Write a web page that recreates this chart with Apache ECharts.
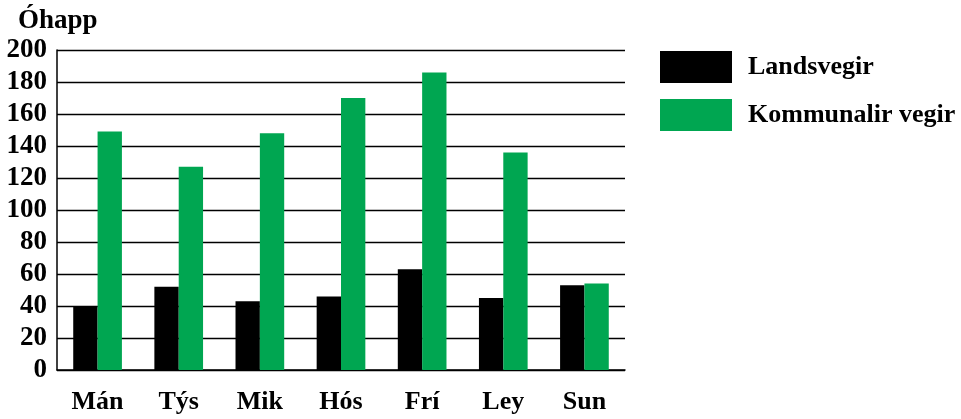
<!DOCTYPE html>
<html><head><meta charset="utf-8">
<script src="https://cdn.jsdelivr.net/npm/echarts@6/dist/echarts.min.js"></script>
<style>html,body{margin:0;padding:0;background:#fff}#c{width:961px;height:419px}</style>
</head><body><div id="c"></div>
<script>
const categories = ['Mán','Týs','Mik','Hós','Frí','Ley','Sun'];
const landsvegir = [40, 52, 43, 46, 63, 45, 53];
const kommunalir = [149, 127, 148, 170, 186, 136, 54];
const seriesNames = ['Landsvegir','Kommunalir vegir'];
const yTitle = 'Óhapp';

const font = '"Liberation Serif","Times New Roman",serif';
const chart = echarts.init(document.getElementById('c'));
chart.setOption({
  animation: false,
  backgroundColor: '#fff',
  title: { text: yTitle, left: 13, top: 3, padding: 5, textStyle: { fontFamily: font, fontWeight: 'bold', fontSize: 27, color: '#000' } },
  legend: {
    orient: 'vertical', left: 660, top: 51, padding: 0, itemWidth: 72, itemHeight: 32, itemGap: 16,
    icon: 'rect',
    textStyle: { fontFamily: font, fontWeight: 'bold', fontSize: 26, color: '#000', padding: [0,0,10,11] },
    data: seriesNames
  },
  grid: { left: 57, right: 336, top: 50, bottom: 49 },
  xAxis: {
    type: 'category', data: categories,
    axisLine: { lineStyle: { color: '#000', width: 1.5 } },
    axisTick: { inside: true, length: 8, lineStyle: { color: '#555', width: 1 } },
    axisLabel: { fontFamily: font, fontWeight: 'bold', fontSize: 26, color: '#000', margin: 19 }
  },
  yAxis: {
    type: 'value', min: 0, max: 200, interval: 20,
    axisLine: { show: true, lineStyle: { color: '#000', width: 1.5 } },
    axisTick: { show: false },
    splitLine: { lineStyle: { color: '#000', width: 1.3 } },
    axisLabel: { fontFamily: font, fontWeight: 'bold', fontSize: 27, color: '#000', margin: 10 }
  },
  series: [
    { name: seriesNames[0], type: 'bar', data: landsvegir, itemStyle: { color: '#000' }, barGap: '0%', barCategoryGap: '40%' },
    { name: seriesNames[1], type: 'bar', data: kommunalir, itemStyle: { color: '#00A651' }, barGap: '0%', barCategoryGap: '40%' }
  ]
});
</script></body></html>
